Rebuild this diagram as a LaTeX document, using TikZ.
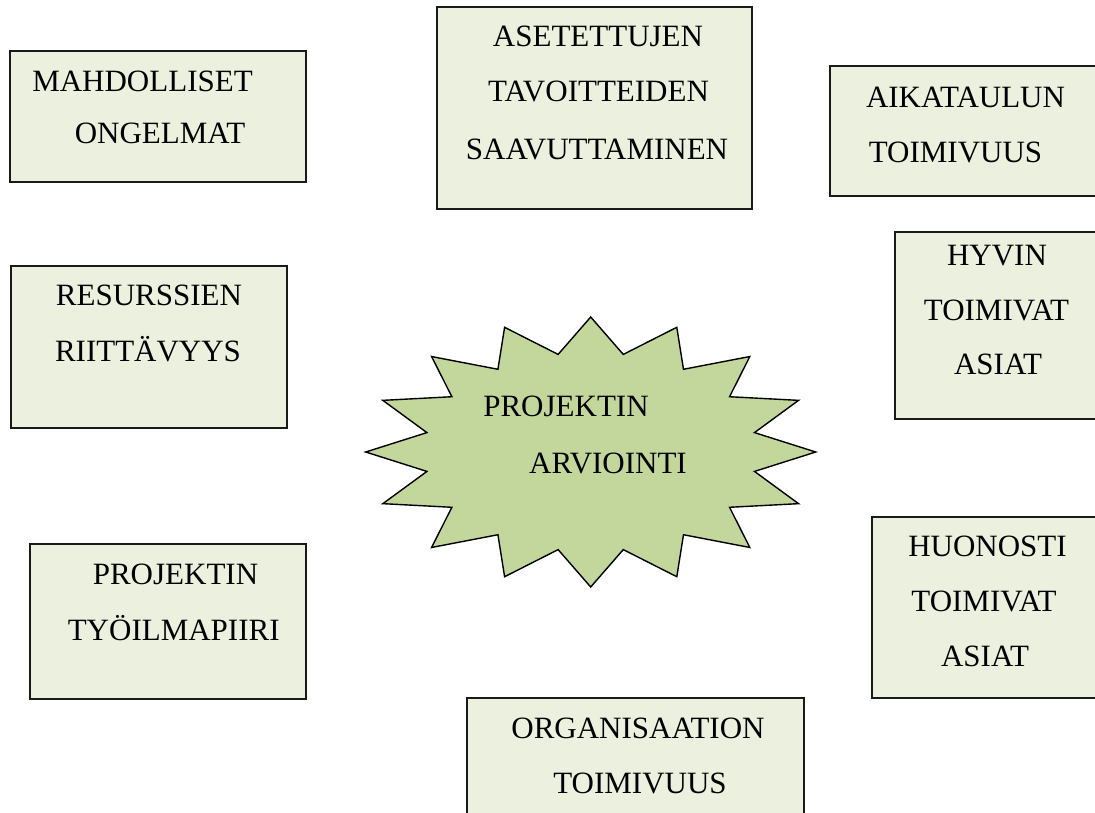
\documentclass[tikz,border=0pt]{standalone}
\usepackage{fontspec}
\setmainfont{Liberation Serif}
\definecolor{boxfill}{HTML}{EBF1DE}
\definecolor{starfill}{HTML}{C3D69B}
\definecolor{edge}{HTML}{1A1A1A}
\tikzset{
  topicbox/.style={draw=edge, line width=1.2pt, fill=boxfill, rectangle, inner sep=0pt},
  label/.style={anchor=base, inner sep=0pt, font=\fontsize{31}{36}\selectfont},
  burst/.style={draw=black, line width=1.4pt, fill=starfill, line join=miter}
}
\begin{document}
\begin{tikzpicture}[x=1pt, y=-1pt]
\useasboundingbox (0,0) rectangle (1095,812);
\fill[white] (0,0) rectangle (1095,812);

% central burst: 16 points on an ellipse, inner notches on a smaller one
\coordinate (c) at (590.7,452);
\begin{scope}[shift={(c)}]
  \draw[burst] (0,135)
    \foreach \i [evaluate=\i as \rx using {mod(\i,2)==1 ? 167 : 225},
                 evaluate=\i as \ry using {mod(\i,2)==1 ? 99.5 : 135}] in {1,...,31}
      { -- ({\rx*cos(90+\i*11.25)},{\ry*sin(90+\i*11.25)}) } -- cycle;
\end{scope}
\node[label] (s1) at (566,416.7) {PROJEKTIN};
\node[label] (s2) at (608,473.3) {ARVIOINTI};

% surrounding topic boxes
\node[topicbox, minimum width=296pt, minimum height=131pt] (b1) at (158,116.5) {};
\node[label] (b1a) at (142.5,91.7) {MAHDOLLISET};
\node[label] (b1b) at (160,143) {ONGELMAT};

\node[topicbox, minimum width=315pt, minimum height=202pt] (b2) at (594.5,108) {};
\node[label] (b2a) at (598,46.7) {ASETETTUJEN};
\node[label] (b2b) at (598.5,101.7) {TAVOITTEIDEN};
\node[label] (b2c) at (597,159.3) {SAAVUTTAMINEN};

\node[topicbox, minimum width=267pt, minimum height=130pt] (b3) at (963.5,131) {};
\node[label] (b3a) at (965.5,107) {AIKATAULUN};
\node[label] (b3b) at (955.5,162) {TOIMIVUUS};

\node[topicbox, minimum width=276pt, minimum height=162pt] (b4) at (149,347) {};
\node[label] (b4a) at (149,305.7) {RESURSSIEN};
\node[label] (b4b) at (148,361.7) {RIITTÄVYYS};

\node[topicbox, minimum width=202pt, minimum height=187pt] (b5) at (996,325.5) {};
\node[label] (b5a) at (997,265) {HYVIN};
\node[label] (b5b) at (996.5,320) {TOIMIVAT};
\node[label] (b5c) at (998,374) {ASIAT};

\node[topicbox, minimum width=276pt, minimum height=155pt] (b6) at (168,621.5) {};
\node[label] (b6a) at (175.5,584.3) {PROJEKTIN};
\node[label] (b6b) at (173.7,640) {TYÖILMAPIIRI};

\node[topicbox, minimum width=225pt, minimum height=181pt] (b7) at (984.5,607.5) {};
\node[label] (b7a) at (987.5,556.7) {HUONOSTI};
\node[label] (b7b) at (984,611.7) {TOIMIVAT};
\node[label] (b7c) at (985,666.7) {ASIAT};

\node[topicbox, minimum width=337pt, minimum height=117pt] (b8) at (635.5,756.5) {};
\node[label] (b8a) at (638,738.3) {ORGANISAATION};
\node[label] (b8b) at (640,793.3) {TOIMIVUUS};
\end{tikzpicture}
\end{document}
